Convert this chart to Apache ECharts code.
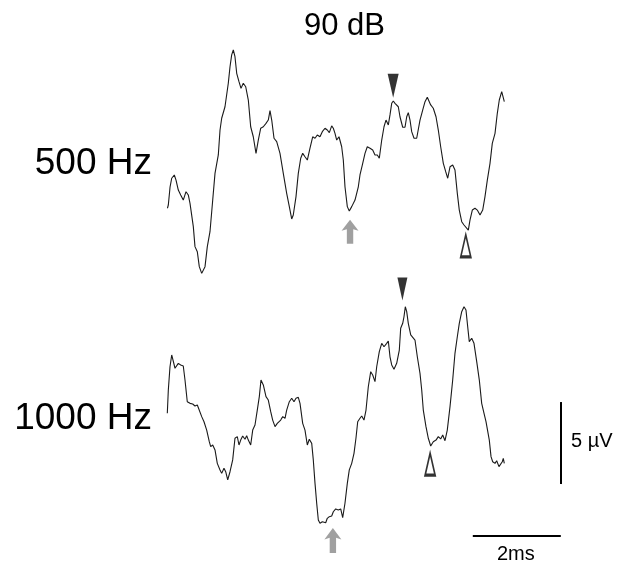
<!DOCTYPE html>
<html>
<head>
<meta charset="utf-8">
<script src="https://cdn.jsdelivr.net/npm/echarts@6/dist/echarts.min.js"></script>
<style>html,body{margin:0;padding:0;background:#fff}#c{width:617px;height:568px}</style>
</head>
<body>
<div id="c"></div>
<script>
// time (ms) , amplitude (µV) relative to each trace's baseline
const trace500 = [
[0.01,-0.26],[0.03,-0.06],[0.07,1.05],[0.107,1.57],[0.166,1.77],[0.205,1.46],[0.257,0.85],[0.311,0.55],[0.37,0.24],[0.432,0.75],[0.484,0.55],[0.523,0.04],[0.598,-1.38],[0.636,-2.60],[0.689,-2.91],[0.734,-3.82],[0.789,-4.23],[0.825,-4.33],[0.864,-3.82],[0.916,-2.60],[0.977,-1.69],[1.039,0.24],[1.091,1.87],[1.166,2.99],[1.205,4.51],[1.243,5.23],[1.318,5.93],[1.393,7.36],[1.432,8.37],[1.470,9.09],[1.507,9.39],[1.545,8.98],[1.584,7.97],[1.636,7.46],[1.682,7.05],[1.734,7.36],[1.789,7.15],[1.848,6.34],[1.902,4.71],[1.961,4.10],[2.023,3.09],[2.075,3.90],[2.130,4.62],[2.189,4.71],[2.250,4.92],[2.302,5.12],[2.341,5.69],[2.380,5.12],[2.432,4.01],[2.493,3.80],[2.568,3.09],[2.643,1.87],[2.720,0.65],[2.780,-0.16],[2.834,-0.91],[2.870,-0.67],[2.932,0.45],[2.984,1.87],[3.039,2.79],[3.084,3.09],[3.136,2.88],[3.189,2.68],[3.250,3.40],[3.311,4.10],[3.364,4.01],[3.416,4.21],[3.477,4.10],[3.530,4.41],[3.591,4.62],[3.643,4.51],[3.689,4.35],[3.743,4.76],[3.780,4.62],[3.818,4.31],[3.857,3.90],[3.909,4.10],[3.970,3.49],[4.007,2.68],[4.045,1.05],[4.098,-0.16],[4.143,-0.43],[4.198,-0.16],[4.273,0.24],[4.348,1.05],[4.386,1.77],[4.448,2.48],[4.5,3.09],[4.552,3.49],[4.614,3.40],[4.675,3.29],[4.727,2.99],[4.780,2.99],[4.825,2.79],[4.880,3.90],[4.932,4.71],[4.977,5.12],[5.030,4.82],[5.068,5.43],[5.107,6.14],[5.143,6.28],[5.182,6.14],[5.220,6.24],[5.257,5.93],[5.295,5.32],[5.357,4.68],[5.409,4.68],[5.448,5.32],[5.484,5.57],[5.523,5.12],[5.561,4.41],[5.614,4.01],[5.675,4.01],[5.750,5.12],[5.811,5.73],[5.864,6.24],[5.916,6.51],[5.961,6.45],[5.993,6.04],[6.052,5.84],[6.114,5.32],[6.166,4.51],[6.220,3.49],[6.280,2.48],[6.334,1.97],[6.380,1.57],[6.432,2.27],[6.493,2.38],[6.545,2.07],[6.598,0.65],[6.643,-0.37],[6.698,-1.08],[6.75,-1.28],[6.795,-1.38],[6.848,-1.59],[6.886,-0.98],[6.939,-0.37],[7.0,-0.26],[7.052,-0.37],[7.114,-0.67],[7.175,-0.37],[7.227,0.45],[7.280,1.46],[7.341,2.48],[7.393,3.70],[7.455,4.31],[7.507,5.53],[7.552,6.34],[7.607,6.85],[7.643,6.75],[7.666,6.24]
];
const trace1000 = [
[0.007,-0.57],[0.03,0.85],[0.068,2.27],[0.107,2.99],[0.143,2.88],[0.182,2.18],[0.220,2.07],[0.257,2.48],[0.311,2.38],[0.370,2.32],[0.409,1.46],[0.461,0.14],[0.523,0.04],[0.584,0],[0.636,-0.12],[0.689,-0.06],[0.734,-0.16],[0.789,-0.77],[0.841,-1.08],[0.902,-1.59],[0.961,-2.30],[0.993,-2.60],[1.039,-2.50],[1.091,-2.80],[1.143,-3.62],[1.205,-4.02],[1.243,-4.23],[1.295,-3.92],[1.334,-4.13],[1.380,-4.63],[1.432,-4.13],[1.493,-3.41],[1.545,-2.09],[1.598,-1.99],[1.636,-2.50],[1.675,-2.20],[1.720,-1.95],[1.773,-2.15],[1.811,-1.93],[1.848,-2.20],[1.902,-2.50],[1.948,-1.59],[2.0,-1.28],[2.052,-0.37],[2.098,0.45],[2.136,1.46],[2.189,1.16],[2.25,0.45],[2.302,0.24],[2.357,-0.47],[2.402,-0.98],[2.455,-1.38],[2.507,-1.18],[2.552,-1.14],[2.584,-0.98],[2.630,-0.77],[2.682,-0.87],[2.720,-0.37],[2.780,0.14],[2.834,0.35],[2.886,0.14],[2.932,0.35],[2.984,0.41],[3.023,0.04],[3.084,-1.18],[3.136,-1.59],[3.189,-2.50],[3.234,-2.15],[3.289,-2.40],[3.325,-3.41],[3.364,-4.84],[3.402,-6.05],[3.439,-7.07],[3.477,-7.27],[3.530,-7.18],[3.568,-7.07],[3.607,-7.24],[3.643,-6.97],[3.689,-6.87],[3.743,-6.83],[3.780,-6.57],[3.834,-6.40],[3.893,-6.46],[3.948,-6.40],[3.993,-6.93],[4.045,-6.05],[4.098,-4.84],[4.143,-4.02],[4.198,-3.62],[4.25,-3.01],[4.295,-2.07],[4.334,-1.08],[4.386,-0.87],[4.425,-0.73],[4.477,-0.98],[4.523,-0.37],[4.575,1.05],[4.630,1.97],[4.675,1.77],[4.727,1.36],[4.766,2.27],[4.825,3.19],[4.880,3.70],[4.932,3.49],[4.993,3.70],[5.030,3.84],[5.068,2.88],[5.107,2.38],[5.159,2.12],[5.220,2.48],[5.280,3.29],[5.311,4.62],[5.357,4.92],[5.386,5.32],[5.416,5.93],[5.448,5.63],[5.484,4.92],[5.539,4.21],[5.584,4.31],[5.636,3.90],[5.689,2.88],[5.75,1.87],[5.789,0.85],[5.825,-0.37],[5.886,-1.38],[5.939,-2.09],[5.993,-2.56],[6.052,-2.30],[6.114,-2.20],[6.166,-1.99],[6.220,-2.13],[6.266,-1.89],[6.318,-2.24],[6.370,-1.59],[6.432,-0.16],[6.493,1.46],[6.545,3.09],[6.598,4.10],[6.643,4.92],[6.698,5.63],[6.75,5.93],[6.795,5.73],[6.834,4.71],[6.870,3.80],[6.925,4.01],[6.977,3.70],[7.039,2.58],[7.098,1.46],[7.152,0.04],[7.205,-0.57],[7.25,-1.08],[7.289,-1.18],[7.325,-2.20],[7.364,-3.21],[7.402,-3.52],[7.455,-3.62],[7.493,-3.46],[7.545,-3.82],[7.584,-3.92],[7.620,-3.52],[7.643,-3.31],[7.666,-3.62]
];
// marker positions [ms, µV]
const peak500 = [5.14, 7.21];
const trough500 = [6.79, -2.55];
const arrow500 = [4.16, -1.69];
const peak1000 = [5.35, 7.01];
const trough1000 = [5.98, -3.67];
const arrow1000 = [3.77, -8.32];
// scale bars
const barVolt = [[8.955, 0.12], [8.955, -4.88]];   // 5 µV
const barTime = [[6.95, -8.05], [8.95, -8.05]];    // 2 ms
const labels = { title: '90 dB', row1: '500 Hz', row2: '1000 Hz', volt: '5 \u00B5V', time: '2ms' };

const FONT = 'Liberation Sans, Arial, sans-serif';
const chart = echarts.init(document.getElementById('c'), null, { renderer: 'canvas' });
const downTri = 'path://M0,0 L11,0 L5.5,24 Z';
const upTri = 'path://M5,0 L10,22 L0,22 Z';
const upArrow = 'path://M8,0 L16,11 L11,9.5 L11,24 L5,24 L5,9.5 L0,11 Z';

const hiddenAxis = (idx, min, max) => ({ type: 'value', gridIndex: idx, min, max, show: false });
const marker = (xi, pt, symbol, size, style) => ({
  type: 'scatter', xAxisIndex: xi, yAxisIndex: xi, data: [pt], symbol, symbolSize: size,
  symbolKeepAspect: false, itemStyle: style, clip: false, silent: true, z: 5
});
const traceSeries = (xi, data) => ({
  type: 'line', xAxisIndex: xi, yAxisIndex: xi, data, showSymbol: false, symbol: 'none',
  lineStyle: { color: '#1a1a1a', width: 1.1 }, clip: false, silent: true, animation: false
});
const barSeries = (data) => ({
  type: 'line', xAxisIndex: 1, yAxisIndex: 1, data, showSymbol: false, symbol: 'none',
  lineStyle: { color: '#000', width: 2 }, clip: false, silent: true
});

chart.setOption({
  animation: false,
  backgroundColor: '#fff',
  grid: [
    { left: 167, top: 40, width: 440, height: 246 },
    { left: 167, top: 289.2, width: 440, height: 278.8 }
  ],
  xAxis: [hiddenAxis(0, 0, 10), hiddenAxis(1, 0, 10)],
  yAxis: [hiddenAxis(0, -5, 10), hiddenAxis(1, -10, 7)],
  series: [
    traceSeries(0, trace500),
    traceSeries(1, trace1000),
    marker(0, peak500, downTri, [11, 24], { color: '#000' }),
    marker(0, trough500, upTri, [10, 22], { color: '#fff', borderColor: '#000', borderWidth: 2.2 }),
    marker(0, arrow500, upArrow, [17, 24], { color: '#888' }),
    marker(1, peak1000, downTri, [10, 23], { color: '#000' }),
    marker(1, trough1000, upTri, [10, 22], { color: '#fff', borderColor: '#000', borderWidth: 2.2 }),
    marker(1, arrow1000, upArrow, [17, 25], { color: '#888' }),
    barSeries(barVolt),
    barSeries(barTime)
  ],
  graphic: [
    { type: 'text', left: 304, top: 11, style: { text: labels.title, font: '31px ' + FONT, fill: '#000' } },
    { type: 'text', right: 617 - 152, top: 145, style: { text: labels.row1, font: '37px ' + FONT, fill: '#000' } },
    { type: 'text', right: 617 - 152, top: 400, style: { text: labels.row2, font: '37px ' + FONT, fill: '#000' } },
    { type: 'text', left: 571, top: 431, style: { text: labels.volt, font: '20px ' + FONT, fill: '#000' } },
    { type: 'text', left: 497, top: 544, style: { text: labels.time, font: '20px ' + FONT, fill: '#000' } }
  ]
});
</script>
</body>
</html>
